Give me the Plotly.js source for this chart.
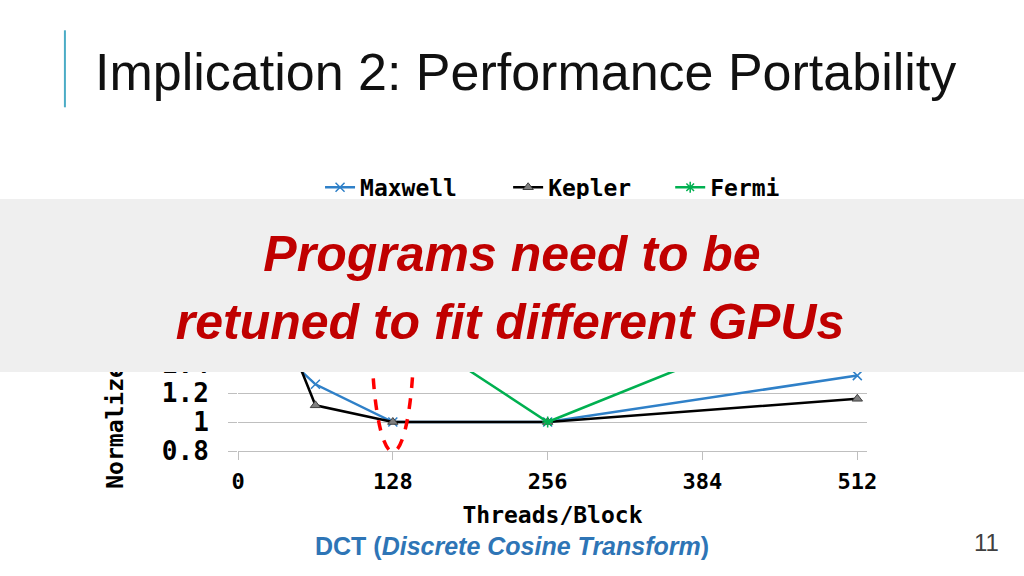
<!DOCTYPE html>
<html>
<head>
<meta charset="utf-8">
<script src="https://cdn.plot.ly/plotly-3.0.1.min.js"></script>
<style>
  html, body { margin: 0; padding: 0; background: #ffffff; }
  #wrap { position: relative; width: 1024px; height: 576px; overflow: hidden; }
  #chart { position: absolute; left: 0; top: 0; width: 1024px; height: 576px; }
  #band {
    position: absolute; left: 0; top: 199px; width: 1024px; height: 173px;
    background: #efefef;
  }
  .callout {
    position: absolute; left: 0; width: 1024px; text-align: center;
    font-family: "Liberation Sans", Arial, sans-serif; font-size: 50px;
    font-weight: bold; font-style: italic; color: #c00000;
    line-height: 50px; height: 50px; white-space: nowrap;
  }
</style>
</head>
<body>
<div id="wrap">
  <div id="chart"></div>
  <div id="band">
    <div class="callout" id="line1" style="top: 30px;"></div>
    <div class="callout" id="line2" style="top: 98px; left: -2px;"></div>
  </div>
</div>
<script>
// ---- data ----
const threads = [32, 64, 128, 256, 512];
const maxwell = [1.51, 1.26, 1.00, 1.00, 1.32];
const kepler  = [1.78, 1.115, 1.00, 1.00, 1.16];
const fermi   = [2.20, 1.95, 1.70, 1.00, 1.86];
const seriesNames = ["Maxwell", "Kepler", "Fermi"];
const xTicks = [0, 128, 256, 384, 512];
const yTicks = [0.8, 1, 1.2, 1.4];
const calloutLines = ["Programs need to be", "retuned to fit different GPUs"];

document.getElementById("line1").textContent = calloutLines[0];
document.getElementById("line2").textContent = calloutLines[1];

// ---- plot-area geometry (pixels) ----
const L = 238, R = 866.7, T = 218.7, B = 450.7;
const W = R - L, H = B - T;
const px = x => (x - L) / W;
const py = y => (B - y) / H;

const mono = "DejaVu Sans Mono, monospace";
const sans = "Liberation Sans, Arial, sans-serif";

const traces = [
  {
    x: threads, y: maxwell, name: seriesNames[0], type: "scatter", mode: "lines+markers",
    line: {color: "#2f80c8", width: 2.5},
    marker: {symbol: "x-thin-open", size: 9, color: "#2f80c8", line: {width: 1.5, color: "#2f80c8"}},
    legend: "legend"
  },
  {
    x: threads, y: kepler, name: seriesNames[1], type: "scatter", mode: "lines+markers",
    line: {color: "#000000", width: 2.5},
    marker: {symbol: "triangle-up", size: 9, color: "#7f7f7f", line: {width: 1, color: "#404040"}},
    legend: "legend2"
  },
  {
    x: threads, y: fermi, name: seriesNames[2], type: "scatter", mode: "lines+markers",
    line: {color: "#00b050", width: 2.5},
    marker: {symbol: "asterisk-open", size: 9, color: "#00b050", line: {width: 1.5, color: "#00b050"}},
    legend: "legend3"
  }
];

const legendFont = {family: mono, size: 23, color: "#000000", weight: "bold"};
const legendBase = {orientation: "h", xanchor: "left", yanchor: "middle",
  bgcolor: "rgba(0,0,0,0)", borderwidth: 0, font: legendFont, xref: "paper", yref: "paper"};

const layout = {
  width: 1024, height: 576,
  paper_bgcolor: "#ffffff", plot_bgcolor: "#ffffff",
  margin: {l: L, r: 1024 - R, t: T, b: 576 - B, pad: 0},
  title: {
    text: "Implication 2: Performance Portability",
    font: {family: sans, size: 52, color: "#111111"},
    x: 95 / 1024, xanchor: "left", xref: "container",
    y: 1 - 72 / 576, yanchor: "middle", yref: "container"
  },
  showlegend: true,
  legend:  Object.assign({}, legendBase, {x: px(320), y: py(187)}),
  legend2: Object.assign({}, legendBase, {x: px(508), y: py(187)}),
  legend3: Object.assign({}, legendBase, {x: px(670), y: py(187)}),
  xaxis: {
    range: [0, 520], tickvals: xTicks, ticktext: xTicks.map(String),
    ticks: "outside", ticklen: 8, tickcolor: "#bfbfbf", tickwidth: 1,
    showline: true, linecolor: "#bfbfbf", linewidth: 1,
    showgrid: false, zeroline: false,
    tickfont: {family: mono, size: 22, color: "#000000", weight: "bold"},
    ticklabelstandoff: 3,
    title: {text: "Threads/Block", font: {family: mono, size: 23, color: "#000000", weight: "bold"}, standoff: 13},
    fixedrange: true
  },
  yaxis: {
    range: [0.8, 2.4], tickvals: yTicks, ticktext: yTicks.map(String),
    ticks: "outside", ticklen: 9, tickcolor: "#bfbfbf", tickwidth: 1,
    showline: false, showgrid: true, gridcolor: "#bfbfbf", gridwidth: 1,
    zeroline: false,
    tickfont: {family: mono, size: 26, color: "#000000", weight: "bold"},
    ticklabelstandoff: 14,
    fixedrange: true
  },
  shapes: [
    // accent bar beside title
    {type: "line", xref: "paper", yref: "paper", x0: px(65), x1: px(65), y0: py(30), y1: py(107),
     line: {color: "#4bacc6", width: 2}, layer: "above"},
    // red dashed ellipse around the 128 threads/block optimum
    {type: "circle", xref: "x", yref: "y", x0: 110.6, x1: 145.4, y0: 0.795, y1: 2.4,
     line: {color: "#ff0000", width: 3.5, dash: "dash"}, fillcolor: "rgba(0,0,0,0)", layer: "above"}
  ],
  annotations: [
    {text: "Normalized Runtime", xref: "paper", yref: "paper", x: px(115), y: py(490),
     xanchor: "center", yanchor: "bottom", textangle: -90, showarrow: false,
     font: {family: mono, size: 23, color: "#000000", weight: "bold"}},
    {text: "<b>DCT (<i>Discrete Cosine Transform</i>)</b>", xref: "paper", yref: "paper",
     x: px(512), y: py(546), xanchor: "center", yanchor: "middle", showarrow: false,
     font: {family: sans, size: 25, color: "#2e75b6"}},
    {text: "11", xref: "paper", yref: "paper", x: px(986), y: py(542),
     xanchor: "center", yanchor: "middle", showarrow: false,
     font: {family: sans, size: 24, color: "#404040"}}
  ]
};

Plotly.newPlot("chart", traces, layout, {displayModeBar: false, staticPlot: true});
</script>
</body>
</html>
